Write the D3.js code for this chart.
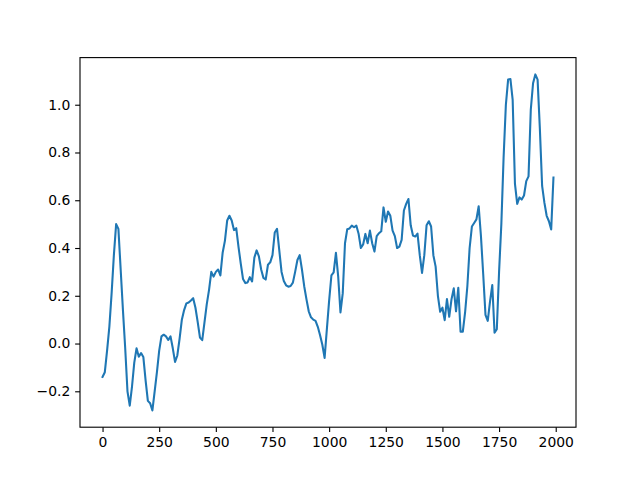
<!DOCTYPE html>
<html>
<head>
<meta charset="utf-8">
<script src="https://cdn.jsdelivr.net/npm/d3@7"></script>
<style>
  body { margin: 0; background: #fff; }
  .axis text { font-family: "DejaVu Sans", sans-serif; font-size: 13.9px; fill: #000; }
  .axis line { stroke: #000; stroke-width: 1.11; }
  .axis path { display: none; }
</style>
</head>
<body>
<div id="chart"></div>
<script>
// sample spacing along x (values below are at 0, 10, 20, ... 1990)
var xStep = 10;

var values = [
  -0.14, -0.12, -0.03, 0.07, 0.21, 0.37, 0.50, 0.48, 0.31, 0.14,
  -0.02, -0.20, -0.26, -0.18, -0.08, -0.02, -0.055, -0.04, -0.056, -0.154,
  -0.24, -0.25, -0.28, -0.20, -0.12, -0.03, 0.03, 0.037, 0.03, 0.015,
  0.03, -0.02, -0.077, -0.05, 0.02, 0.10, 0.14, 0.168, 0.172, 0.18,
  0.19, 0.15, 0.09, 0.025, 0.014, 0.09, 0.165, 0.225, 0.30, 0.28,
  0.30, 0.31, 0.285, 0.38, 0.43, 0.515, 0.535, 0.515, 0.475, 0.483,
  0.405, 0.335, 0.27, 0.253, 0.256, 0.278, 0.26, 0.36, 0.39, 0.365,
  0.31, 0.275, 0.268, 0.33, 0.34, 0.37, 0.465, 0.48, 0.39, 0.30,
  0.262, 0.244, 0.238, 0.241, 0.255, 0.30, 0.35, 0.37, 0.31, 0.24,
  0.185, 0.135, 0.11, 0.10, 0.095, 0.07, 0.035, -0.005, -0.06, 0.06,
  0.18, 0.285, 0.298, 0.38, 0.28, 0.13, 0.21, 0.42, 0.479, 0.482,
  0.494, 0.487, 0.494, 0.46, 0.40, 0.415, 0.459, 0.42, 0.473, 0.42,
  0.385, 0.45, 0.462, 0.47, 0.57, 0.51, 0.553, 0.535, 0.473, 0.45,
  0.40, 0.406, 0.434, 0.557, 0.585, 0.605, 0.495, 0.452, 0.448, 0.46,
  0.37, 0.296, 0.37, 0.495, 0.512, 0.49, 0.37, 0.322, 0.20, 0.133,
  0.15, 0.098, 0.186, 0.112, 0.185, 0.231, 0.135, 0.233, 0.05, 0.05,
  0.13, 0.24, 0.40, 0.49, 0.505, 0.52, 0.575, 0.45, 0.29, 0.12,
  0.095, 0.175, 0.245, 0.045, 0.06, 0.30, 0.50, 0.78, 1.00, 1.106,
  1.108, 1.02, 0.67, 0.585, 0.612, 0.603, 0.62, 0.68, 0.70, 0.98,
  1.09, 1.127, 1.105, 0.90, 0.66, 0.59, 0.535, 0.512, 0.478, 0.695
];

var xTicks = [0, 250, 500, 750, 1000, 1250, 1500, 1750, 2000];
var yTicks = [-0.2, 0.0, 0.2, 0.4, 0.6, 0.8, 1.0];

var data = values.map(function(v, i) { return { x: i * xStep, y: v }; });

var margin = { top: 57.6, right: 64, bottom: 52.8, left: 80 };
var width = 640 - margin.left - margin.right,
    height = 480 - margin.top - margin.bottom;

var svg = d3.select("#chart").append("svg")
    .attr("width", 640)
    .attr("height", 480)
  .append("g")
    .attr("transform", "translate(" + margin.left + "," + margin.top + ")");

// matplotlib style 5% padding around the data
var xExt = d3.extent(data, function(d) { return d.x; });
var yExt = d3.extent(data, function(d) { return d.y; });
var xPad = (xExt[1] - xExt[0]) * 0.05,
    yPad = (yExt[1] - yExt[0]) * 0.05;

var x = d3.scaleLinear()
    .domain([xExt[0] - xPad, xExt[1] + xPad])
    .range([0, width]);

var y = d3.scaleLinear()
    .domain([yExt[0] - yPad, yExt[1] + yPad])
    .range([height, 0]);

var tickLen = 4.86;

svg.append("g")
    .attr("class", "x-axis axis")
    .attr("transform", "translate(0," + height + ")")
    .call(d3.axisBottom(x).tickValues(xTicks).tickSize(tickLen).tickPadding(tickLen)
        .tickFormat(d3.format("d")));

svg.append("g")
    .attr("class", "y-axis axis")
    .call(d3.axisLeft(y).tickValues(yTicks).tickSize(tickLen).tickPadding(tickLen)
        .tickFormat(function(d) { return d3.format(".1f")(d).replace("-", "\u2212"); }));

var line = d3.line()
    .x(function(d) { return x(d.x); })
    .y(function(d) { return y(d.y); });

svg.append("path")
    .datum(data)
    .attr("fill", "none")
    .attr("stroke", "#1f77b4")
    .attr("stroke-width", 2.08)
    .attr("stroke-linejoin", "round")
    .attr("stroke-linecap", "square")
    .attr("d", line);

// frame
svg.append("rect")
    .attr("width", width)
    .attr("height", height)
    .attr("fill", "none")
    .attr("stroke", "#000")
    .attr("stroke-width", 1.11);
</script>
</body>
</html>
